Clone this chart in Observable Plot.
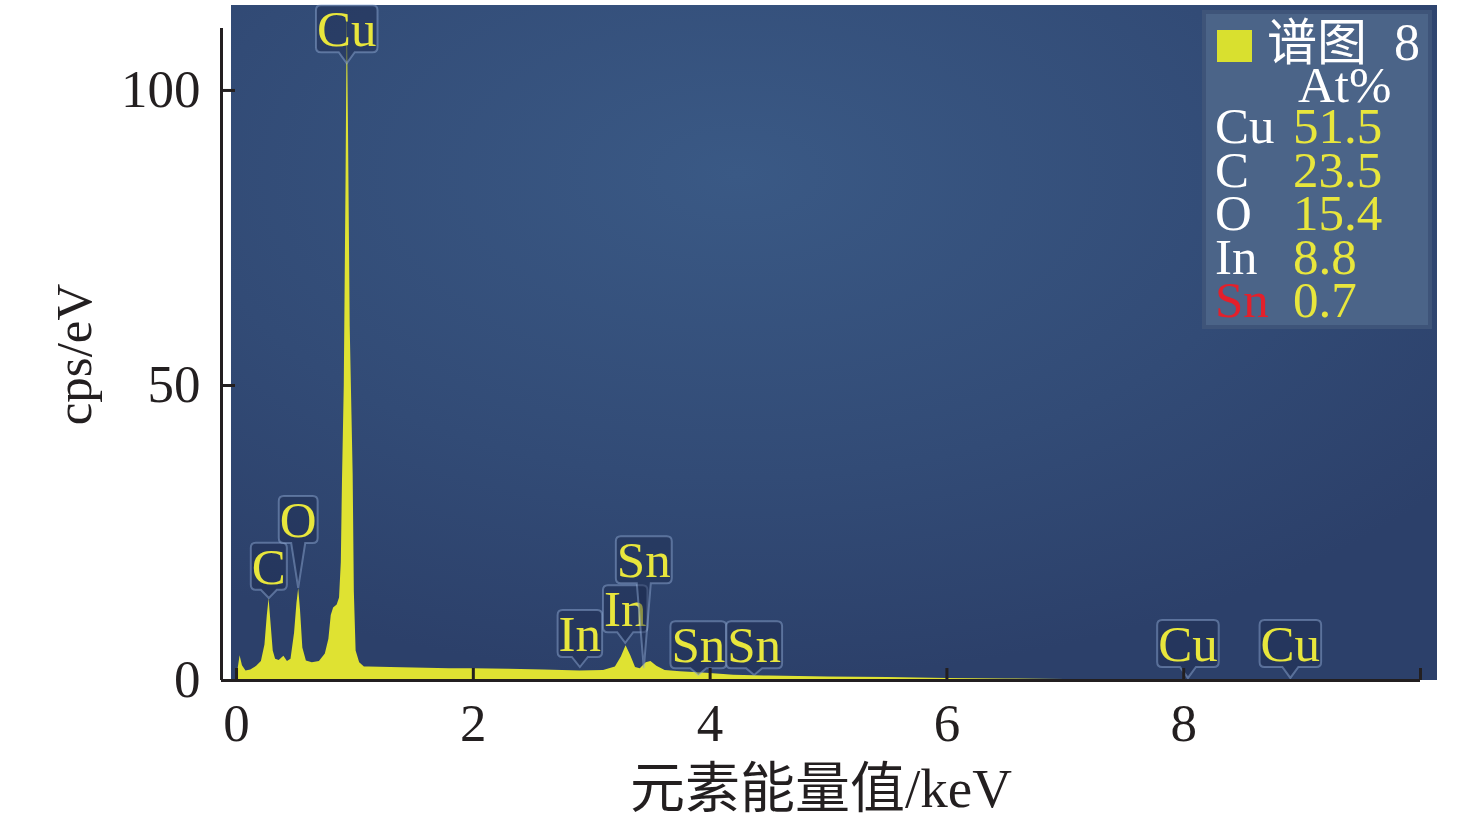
<!DOCTYPE html>
<html><head><meta charset="utf-8">
<script src="https://cdn.jsdelivr.net/npm/d3@7"></script>
<script src="https://cdn.jsdelivr.net/npm/@observablehq/plot@0.6"></script>
<style>
body{margin:0;background:#fff;}
#wrap{position:relative;width:1476px;height:824px;overflow:hidden;}
#legend{position:absolute;left:0;top:0;pointer-events:none;}
</style></head><body><div id="wrap"></div>
<script>
// ---- data ----
const energy = [0.00,0.01,0.03,0.05,0.08,0.12,0.17,0.21,0.24,0.26,0.275,0.29,0.31,0.33,0.36,0.40,0.43,0.46,0.49,0.51,0.525,0.54,0.56,0.59,0.64,0.70,0.75,0.78,0.80,0.82,0.85,0.87,0.885,0.895,0.91,0.925,0.935,0.945,0.96,0.975,0.985,0.995,1.01,1.04,1.08,1.12,1.3,1.5,1.8,2.0,2.3,2.6,2.9,3.1,3.2,3.25,3.29,3.33,3.37,3.41,3.46,3.50,3.55,3.62,3.75,3.9,4.0,4.2,4.5,5.0,5.5,6.0,6.5,7.0,8.0,9.0,10.0];
const counts = [0,1.5,4.2,2.5,1.6,1.8,2.4,3.2,6,11,13.9,10,5,3.6,3.4,4.1,3.2,3.6,8,13,15.6,12,5.5,3.3,3.0,3.2,4.5,7,11,12.3,12.8,14,20,34,50,85,114,95,60,45,35,15,5,3,2.3,2.3,2.2,2.1,2.0,2.0,1.9,1.8,1.6,1.7,2.3,4.0,5.9,4.2,2.2,2.0,3.0,3.2,2.4,1.7,1.5,1.3,1.2,0.9,0.75,0.6,0.5,0.35,0.25,0.18,0.12,0.08,0.05];

const peakNames  = ["C","O","Cu","In","In","Sn","Sn","Sn","Cu","Cu"];
const peakEnergy = [0.277,0.525,0.935,2.904,3.287,3.444,3.905,4.376,8.04,8.905];
const peakTip    = [13.9,15.6,104.5,2.2,6.3,2.0,0.85,0.85,0.35,0.35];
const peakBox    = [15.3,23.2,106.4,3.9,8.1,16.4,2.0,2.0,2.2,2.2];

const yTicks = [0,50,100];
const xTicks = [0,2,4,6,8,10];
const xTickLabels = ["0","2","4","6","8",""];
const xDomain = [-0.127,10];
const yDomain = [0,110.5];

const legendTitle = "谱图";
const legendNumber = "8";
const legendHeader = "At%";
const legendElements = ["Cu","C","O","In","Sn"];
const legendAt = ["51.5","23.5","15.4","8.8","0.7"];

// ---- styles ----
const SERIF = '"Liberation Serif","Times New Roman","Noto Sans CJK SC",serif';
const INK = "#231f20";
const YEL = "#dfe232";
const LABEL_YEL = "#e8e63c";

const spectrum = energy.map((e,i)=>({e, c: counts[i]}));

function background(index, scales, values, dim) {
  const g = d3.create("svg:g");
  const grad = g.append("defs").append("radialGradient")
    .attr("id","bgGrad").attr("cx",0.42).attr("cy",0.25).attr("r",0.75);
  grad.append("stop").attr("offset","0%").attr("stop-color","#3a5985");
  grad.append("stop").attr("offset","60%").attr("stop-color","#324b76");
  grad.append("stop").attr("offset","100%").attr("stop-color","#2c406a");
  const x0 = dim.marginLeft + 10, x1 = dim.width - dim.marginRight + 17;
  const y0 = dim.marginTop - 23, y1 = dim.height - dim.marginBottom;
  g.append("rect").attr("x",x0).attr("y",y0).attr("width",x1-x0).attr("height",y1-y0)
    .attr("fill","url(#bgGrad)");
  return g.node();
}

const measureCtx = document.createElement("canvas").getContext("2d");
function textWidth(t, size) {
  measureCtx.font = `${size}px "Liberation Serif"`;
  return measureCtx.measureText(t).width;
}

function peakLabels(index, scales, values, dim) {
  const g = d3.create("svg:g");
  const fs = 51, h = 47, r = 5;
  peakNames.forEach((name,i)=>{
    const tx = scales.x(peakEnergy[i]);
    const tip = scales.y(peakTip[i]);
    const b = scales.y(peakBox[i]);
    const w = textWidth(name, fs) + 2;
    const l = tx - w/2, R = tx + w/2, t = b - h;
    const pw = (b < tip - 20) ? 7 : 8;
    const path = `M${l+r},${t} H${R-r} Q${R},${t} ${R},${t+r} V${b-r} Q${R},${b} ${R-r},${b} H${tx+pw} L${tx},${tip} L${tx-pw},${b} H${l+r} Q${l},${b} ${l},${b-r} V${t+r} Q${l},${t} ${l+r},${t} Z`;
    g.append("path").attr("d",path)
      .attr("fill","rgba(28,42,78,0.45)")
      .attr("stroke","rgba(150,178,220,0.45)")
      .attr("stroke-width",2);
    g.append("text").attr("x",tx).attr("y",b-6)
      .attr("text-anchor","middle")
      .attr("font-family",SERIF).attr("font-size",fs)
      .attr("fill",LABEL_YEL).text(name);
  });
  return g.node();
}

const chart = Plot.plot({
  width: 1476, height: 824,
  marginLeft: 221, marginRight: 56, marginTop: 28, marginBottom: 144,
  x: {domain: xDomain, label: null},
  y: {domain: yDomain, label: null},
  style: {fontFamily: SERIF, background: "transparent", color: INK},
  marks: [
    background,
    Plot.areaY(spectrum, {x: "e", y: "c", fill: YEL, curve: "linear"}),
    peakLabels,
    Plot.ruleY([0], {stroke: INK, strokeWidth: 3}),
    Plot.ruleX([xDomain[0]], {stroke: INK, strokeWidth: 3}),
    Plot.axisY(yTicks, {tickSize: -14, tickPadding: 35, fontSize: 53, stroke: INK, strokeWidth: 3, fill: INK, label: null}),
    Plot.axisX(xTicks, {tickSize: -12, tickPadding: 35, fontSize: 53, stroke: INK, strokeWidth: 3, fill: INK, label: null,
      tickFormat: d => xTickLabels[xTicks.indexOf(d)]}),
    Plot.text(["cps/eV"], {text: d => d, frameAnchor: "left", textAnchor: "middle", lineAnchor: "middle", dx: -147, rotate: -90, fontSize: 51, fill: INK}),
    Plot.text(["元素能量值/keV"], {text: d => d, frameAnchor: "bottom", textAnchor: "middle", lineAnchor: "middle", dy: 109, fontSize: 55, fill: INK})
  ]
});
const wrap = document.getElementById("wrap");
wrap.appendChild(chart);

// ---- legend (overlay) ----
const lg = d3.select(wrap).append("svg").attr("id","legend").attr("width",1476).attr("height",824);
lg.append("rect").attr("x",1202).attr("y",10).attr("width",230).attr("height",319)
  .attr("fill","#3e5479");
lg.append("rect").attr("x",1206).attr("y",14).attr("width",222).attr("height",311)
  .attr("fill","#4b6488");
lg.append("rect").attr("x",1217).attr("y",30).attr("width",35).attr("height",32).attr("fill","#d9e02f");
lg.append("text").attr("x",1267).attr("y",60).attr("font-family",'"Noto Sans CJK SC",sans-serif')
  .attr("font-size",50).attr("fill","#fff").text(legendTitle);
lg.append("text").attr("x",1394).attr("y",60).attr("font-family",SERIF)
  .attr("font-size",52).attr("fill","#fff").text(legendNumber);
lg.append("text").attr("x",1298).attr("y",102).attr("font-family",SERIF)
  .attr("font-size",51).attr("fill","#fff").text(legendHeader);
legendElements.forEach((el,i)=>{
  const yb = 143 + i*43.5;
  lg.append("text").attr("x",1215).attr("y",yb).attr("font-family",SERIF).attr("font-size",51)
    .attr("fill", el === "Sn" ? "#e3202b" : "#fff").text(el);
  lg.append("text").attr("x",1293).attr("y",yb).attr("font-family",SERIF).attr("font-size",51)
    .attr("fill", LABEL_YEL).text(legendAt[i]);
});
</script></body></html>
